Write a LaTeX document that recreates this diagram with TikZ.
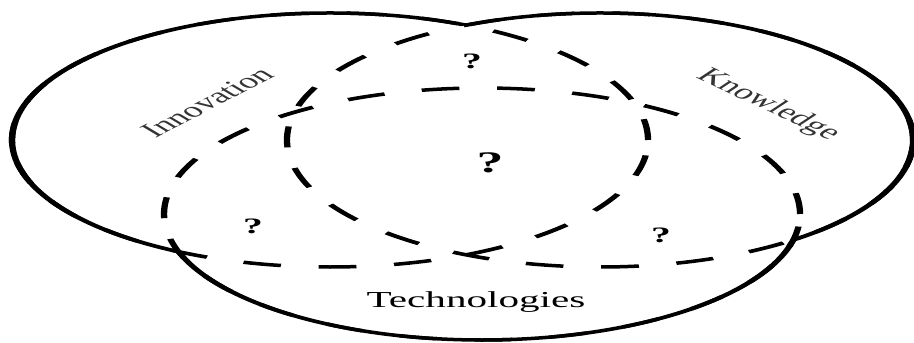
\documentclass[tikz,border=0pt]{standalone}
\usepackage{fontspec}
\setmainfont{Liberation Serif}
\tikzset{
  setedge/.style={line width=0.7mm},
  overlap/.style={setedge, dash pattern=on 4.2mm off 4.2mm},
  innoshape/.style={x radius=35.33mm, y radius=25.4mm},
  knowshape/.style={x radius=34.78mm, y radius=25.4mm},
  techshape/.style={x radius=35.33mm, y radius=25.2mm},
  setname/.style={font=\fontsize{12}{14}\selectfont, text=black!80},
  qmark/.style={font=\bfseries\fontsize{12.5}{15}\selectfont},
}
\begin{document}
\begin{tikzpicture}[x=0.2mm, y=-0.2mm]
  \useasboundingbox (0,0) rectangle (914,343);
  \begin{scope}[transform canvas={xscale=1.8}, x=0.11111mm]
    \coordinate (inno) at (330,140);
    \coordinate (know) at (600,140);
    \coordinate (tech) at (482,214);
    % dashed where the sets overlap
    \draw[overlap] (inno) ellipse [innoshape];
    \draw[overlap] (know) ellipse [knowshape];
    \draw[overlap] (tech) ellipse [techshape];
    % solid where a set stands alone
    \begin{scope}[even odd rule]
      \clip (-50,-50) rectangle (1000,400) (know) ellipse [knowshape];
      \clip (-50,-50) rectangle (1000,400) (tech) ellipse [techshape];
      \draw[setedge] (inno) ellipse [innoshape];
    \end{scope}
    \begin{scope}[even odd rule]
      \clip (-50,-50) rectangle (1000,400) (inno) ellipse [innoshape];
      \clip (-50,-50) rectangle (1000,400) (tech) ellipse [techshape];
      \draw[setedge] (know) ellipse [knowshape];
    \end{scope}
    \begin{scope}[even odd rule]
      \clip (-50,-50) rectangle (1000,400) (inno) ellipse [innoshape];
      \clip (-50,-50) rectangle (1000,400) (know) ellipse [knowshape];
      \draw[setedge] (tech) ellipse [techshape];
    \end{scope}
    \node[setname, rotate=43] (innolabel) at (207,102) {Innovation};
    \node[setname, rotate=-40] (knowlabel) at (768,105) {Knowledge};
    \node[font=\fontsize{13}{15}\selectfont] (techlabel) at (476,302) {Technologies};
    \node[qmark] (qtop) at (472,61) {?};
    \node[qmark] (qleft) at (253,226) {?};
    \node[qmark] (qright) at (661,235) {?};
    \node[qmark, font=\bfseries\fontsize{17}{20}\selectfont] (qmid) at (490,163) {?};
  \end{scope}
\end{tikzpicture}
\end{document}
